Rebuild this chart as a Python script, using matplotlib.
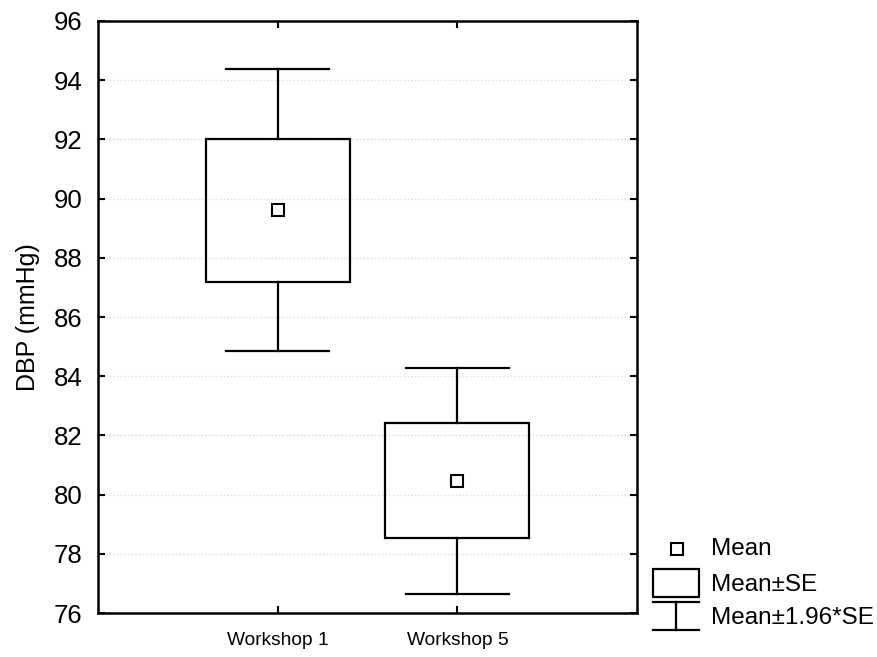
import matplotlib
matplotlib.use("Agg")
import matplotlib.pyplot as plt
from matplotlib.patches import Rectangle

plt.rcParams['font.family'] = ['Liberation Sans', 'DejaVu Sans']

groups = ['Workshop 1', 'Workshop 5']
means = [89.6, 80.47]
se = [2.43, 1.95]
yticks = [76, 78, 80, 82, 84, 86, 88, 90, 92, 94, 96]

fig = plt.figure(figsize=(8.77, 6.57), dpi=100)
ax = fig.add_axes([98 / 877, 1 - 613 / 657, 539 / 877, 592 / 657])

box_half = 0.40
cap_half = 0.285
lw = 1.6

for i, (m, s) in enumerate(zip(means, se)):
    x = i + 1
    lo_box, hi_box = m - s, m + s
    lo_ci, hi_ci = m - 1.96 * s, m + 1.96 * s
    ax.add_patch(Rectangle((x - box_half, lo_box), 2 * box_half, hi_box - lo_box,
                           fill=False, edgecolor='black', linewidth=lw, zorder=3))
    ax.plot([x, x], [hi_box, hi_ci], color='black', lw=lw, zorder=3)
    ax.plot([x, x], [lo_box, lo_ci], color='black', lw=lw, zorder=3)
    ax.plot([x - cap_half, x + cap_half], [hi_ci, hi_ci], color='black', lw=lw, zorder=3)
    ax.plot([x - cap_half, x + cap_half], [lo_ci, lo_ci], color='black', lw=lw, zorder=3)
    ax.plot(x, m, 's', ms=9, mfc='white', mec='black', mew=1.5, zorder=4)

ax.set_xlim(0, 3)
ax.set_ylim(76, 96)
ax.set_xticks([1, 2])
ax.set_xticklabels(groups, fontsize=13.8)
ax.set_yticks(yticks)
ax.tick_params(axis='y', labelsize=18.5, direction='in', length=5, width=1.5,
               right=True, pad=11)
ax.tick_params(axis='x', direction='in', length=5, width=1.5, top=True, pad=14)
ax.set_ylabel('DBP (mmHg)', fontsize=18, labelpad=10)
ax.grid(axis='y', color='#dcdcdc', linestyle=':', linewidth=1.0, zorder=0)
for sp in ax.spines.values():
    sp.set_linewidth(1.8)

# legend drawn in pixel coordinates of the figure
lg = fig.add_axes([0, 0, 1, 1])
lg.set_xlim(0, 877)
lg.set_ylim(657, 0)
lg.axis('off')
lg.patch.set_alpha(0)
lg.plot(677, 549, 's', ms=8.5, mfc='white', mec='black', mew=1.5)
lg.text(711, 549, 'Mean', fontsize=17.5, va='center', ha='left')
lg.add_patch(Rectangle((653, 569), 46, 28, fill=False, edgecolor='black', linewidth=lw))
lg.text(711, 585, 'Mean±SE', fontsize=17.5, va='center', ha='left')
lg.plot([653, 699], [602, 602], color='black', lw=lw)
lg.plot([653, 699], [630, 630], color='black', lw=lw)
lg.plot([676, 676], [602, 630], color='black', lw=lw)
lg.text(711, 618, 'Mean±1.96*SE', fontsize=17.5, va='center', ha='left')

fig.savefig('out.png', dpi=100)
